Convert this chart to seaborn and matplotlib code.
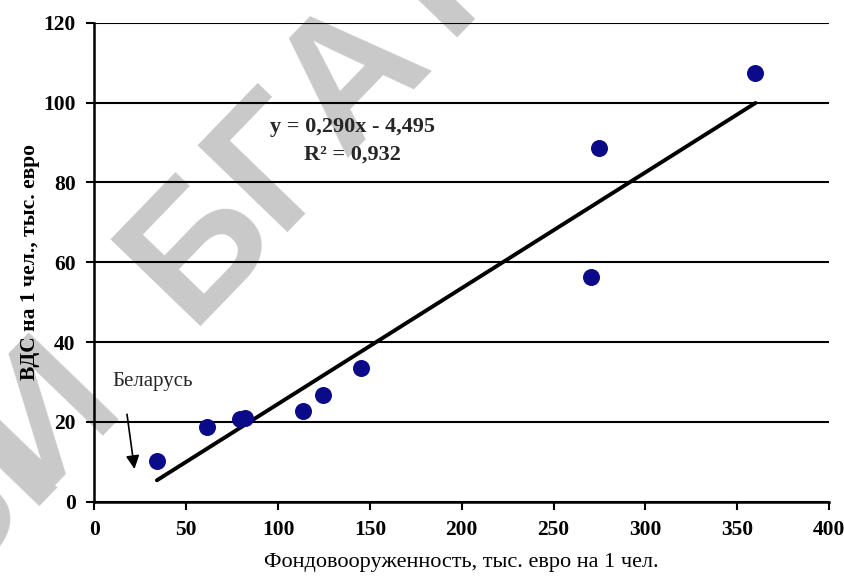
import numpy as np
import pandas as pd
import matplotlib
matplotlib.use("Agg")
import matplotlib.pyplot as plt
import seaborn as sns

# ---- data ----
fund_x = [33.8, 61.1, 79.5, 82.0, 113.3, 124.2, 145.4, 270.2, 274.7, 359.8]
vds_y = [10.2, 18.6, 20.6, 21.0, 22.7, 26.7, 33.4, 56.4, 88.6, 107.5]
trend_slope = 0.290
trend_intercept = -4.495
trend_r2 = 0.932
trend_x = [34.0, 360.0]
x_ticks = [0, 50, 100, 150, 200, 250, 300, 350, 400]
y_ticks = [0, 20, 40, 60, 80, 100, 120]

df = pd.DataFrame({"x": fund_x, "y": vds_y})
trend_df = pd.DataFrame({"x": trend_x})
trend_df["y"] = trend_slope * trend_df["x"] + trend_intercept

sns.set_theme(style="white")
plt.rcParams["font.family"] = ["Liberation Serif", "DejaVu Serif"]

W, H = 845, 576
fig = plt.figure(figsize=(W / 100, H / 100), dpi=100)
fig.patch.set_facecolor("white")

# watermark letters laid out along a diagonal, behind everything
wm_letters = ["Ы", "Й", "Б", "Г", "А", "Т", "У"]
wm_slots = [-3, -2, 0, 1, 2, 3, 4]
wm_origin = (200.0, 247.0)      # pixel centre of "Б"
wm_step = (77.5, -84.5)         # pixel step between letters
for ch, k in zip(wm_letters, wm_slots):
    px = wm_origin[0] + k * wm_step[0]
    py = wm_origin[1] + k * wm_step[1]
    fig.text(px / W, 1 - py / H, ch, fontsize=130, fontweight="bold",
             color="#c9c9c9", family=["Liberation Sans"], rotation=46,
             rotation_mode="anchor", ha="center", va="center", zorder=-5)

ax = fig.add_axes([0.1118, 0.129, 0.8692, 0.8315])
ax.set_facecolor("none")

sns.lineplot(data=trend_df, x="x", y="y", ax=ax, color="black",
             linewidth=2.8, solid_capstyle="round", zorder=3)
sns.scatterplot(data=df, x="x", y="y", ax=ax, color="#0b0b8a", s=150,
                edgecolor="#0b0b8a", linewidth=0, zorder=4)

ax.set_xlim(0, 400)
ax.set_ylim(0, 120)
ax.set_xticks(x_ticks)
ax.set_yticks(y_ticks)
ax.set_xticklabels([str(v) for v in x_ticks], fontweight="bold", fontsize=15.5)
ax.set_yticklabels([str(v) for v in y_ticks], fontweight="bold", fontsize=15.5)

ax.yaxis.grid(True, color="black", linewidth=1.5, zorder=1)
ax.xaxis.grid(False)
for s in ["top", "right"]:
    ax.spines[s].set_visible(False)
for s in ["left", "bottom"]:
    ax.spines[s].set_color("black")
    ax.spines[s].set_linewidth(1.8)
ax.tick_params(axis="both", which="major", direction="out", length=5.5,
               width=1.5, color="black", bottom=True, left=True, pad=8,
               labelcolor="black")

ax.set_xlabel("Фондовооруженность, тыс. евро на 1 чел.", fontsize=16,
              color="black", labelpad=9)
ax.set_ylabel("ВДС на 1 чел., тыс. евро", fontsize=15.5, fontweight="bold",
              color="black", labelpad=2.5)

ax.text(140.4, 93.9, f"y = {trend_slope:.3f}x - {abs(trend_intercept):.3f}".replace(".", ","),
        ha="center", va="center", fontsize=16, fontweight="bold", zorder=5)
ax.text(140.4, 86.9, f"R² = {trend_r2:.3f}".replace(".", ","),
        ha="center", va="center", fontsize=16, fontweight="bold", zorder=5)

ax.text(10.0, 30.0, "Беларусь", ha="left", va="center", fontsize=15, zorder=5)
ax.annotate("", xy=(22.0, 7.5), xytext=(17.5, 22.6),
            arrowprops=dict(arrowstyle="-|>", color="black", lw=1.2,
                            mutation_scale=20), zorder=5)

fig.savefig("out.png", dpi=100)
